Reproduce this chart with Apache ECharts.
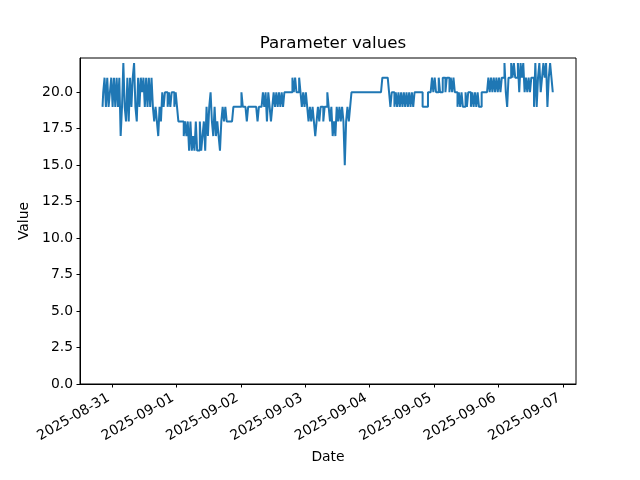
<!DOCTYPE html>
<html>
<head>
<meta charset="utf-8">
<script src="https://cdn.jsdelivr.net/npm/echarts@6/dist/echarts.min.js"></script>
<style>html,body{margin:0;padding:0;background:#fff}#c{width:640px;height:480px}</style>
</head>
<body>
<div id="c"></div>
<script>
// Data: half-hourly readings starting 2025-08-30 20:30 (local time)
const startTime = [2025, 7, 30, 20, 30];
const stepMinutes = 30;
const values = [
  19,20,21,19,21,19,20,21,19,21,
  19,21,19,21,17,19,22,19,18,21,
  18,21,19,21,22,19,18,21,19,21,
  20,21,19,21,19,21,19,21,19,18,
  19,18,17,19,18,20,19,20,20,19,
  20,19,20,20,19,20,19,18,18,18,
  18,17,18,17,18,16,18,16,17,16,
  18,16,16,18,16,17,18,16,19,17,
  19,20,18,17,19,17,18,17,16,18,
  19,18,19,18,18,18,18,18,19,19,
  19,19,19,19,20,19,19,19,18,19,
  19,19,19,19,19,19,18,19,19,19,
  20,19,20,18,20,19,18,19,20,19,
  20,19,20,19,20,19,20,20,20,20,
  20,20,21,20,21,20,20,21,20,19,
  20,19,20,19,18,19,18,19,18,17,
  18,19,18,19,19,18,19,19,20,19,
  18,19,17,18,17,19,18,19,18,19,
  18,15,18,19,18,19,20,20,20,20,
  20,20,20,20,20,20,20,20,20,20,
  20,20,20,20,20,20,20,20,20,21,
  21,21,21,21,20,19,20,20,19,20,
  19,20,19,20,19,20,19,20,19,20,
  19,20,19,20,20,20,20,20,20,19,
  19,19,19,20,20,20,21,20,21,20,
  20,21,20,20,21,21,20,21,21,20,
  21,20,21,20,20,19,20,19,20,19,
  19,20,19,20,20,19,20,19,20,19,
  20,19,19,20,20,20,20,20,21,20,
  21,20,21,20,21,20,21,20,21,21,
  22,20,19,21,21,22,21,22,21,21,
  22,20,22,21,22,20,21,20,21,20,
  21,21,19,22,19,21,22,20,21,22,
  21,22,19,21,22,21,20
];
const yTicks = [0, 2.5, 5, 7.5, 10, 12.5, 15, 17.5, 20];
const titleText = 'Parameter values';
const xName = 'Date';
const yName = 'Value';

const t0 = new Date(startTime[0], startTime[1], startTime[2], startTime[3], startTime[4]).getTime();
const H = 3600 * 1000;
const M = 60 * 1000;
const seriesData = values.map((v, i) => [t0 + i * stepMinutes * M, v]);
const tEnd = seriesData[seriesData.length - 1][0];
const span = tEnd - t0;
const vmin = Math.min(...values), vmax = Math.max(...values);
const yMax = vmax + 0.05 * (vmax - vmin);

const font = 'DejaVu Sans';
const chart = echarts.init(document.getElementById('c'), null, {renderer: 'canvas'});
chart.setOption({
  animation: false,
  backgroundColor: '#fff',
  title: {
    text: titleText,
    left: 328,
    top: 30,
    textAlign: 'center',
    textStyle: {fontFamily: font, fontSize: 16.7, fontWeight: 'normal', color: '#000'}
  },
  grid: {left: 80, right: 64, top: 58, bottom: 96, show: true, borderColor: '#000', borderWidth: 1, backgroundColor: 'transparent'},
  xAxis: {
    type: 'time',
    min: t0 - 0.05 * span,
    max: tEnd + 0.05 * span,
    minInterval: 24 * H,
    maxInterval: 24 * H,
    name: xName,
    nameLocation: 'middle',
    nameGap: 66,
    nameTextStyle: {fontFamily: font, fontSize: 13.9, color: '#000'},
    axisLine: {show: true, lineStyle: {color: '#000', width: 1}},
    axisTick: {show: true, length: 3.5, lineStyle: {color: '#000', width: 1}},
    axisLabel: {
      formatter: '{yyyy}-{MM}-{dd}',
      rotate: 30,
      margin: 11,
      padding: [0, 4, 0, 0],
      fontFamily: font, fontSize: 13.9, color: '#000',
      hideOverlap: false,
      showMinLabel: false, showMaxLabel: false
    },
    splitLine: {show: false}
  },
  yAxis: {
    type: 'value',
    min: 0,
    max: yMax,
    name: yName,
    nameLocation: 'middle',
    nameGap: 46,
    nameRotate: 90,
    nameTextStyle: {fontFamily: font, fontSize: 13.9, color: '#000'},
    axisLine: {show: true, lineStyle: {color: '#000', width: 1}},
    axisTick: {show: true, length: 3.5, customValues: yTicks, lineStyle: {color: '#000', width: 1}},
    axisLabel: {
      customValues: yTicks,
      formatter: v => v.toFixed(1),
      margin: 7,
      fontFamily: font, fontSize: 13.9, color: '#000'
    },
    splitLine: {show: false}
  },
  series: [{
    type: 'line',
    data: seriesData,
    step: 'middle',
    showSymbol: false,
    symbol: 'none',
    lineStyle: {color: '#1f77b4', width: 2},
    itemStyle: {color: '#1f77b4'}
  }]
});
</script>
</body>
</html>
